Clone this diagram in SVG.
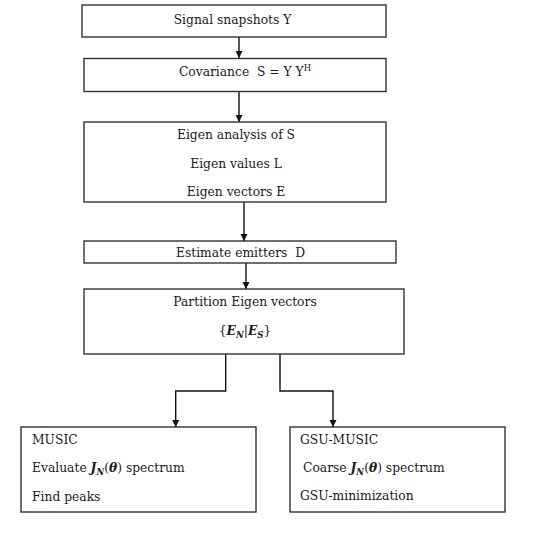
<svg xmlns="http://www.w3.org/2000/svg" width="544" height="533" viewBox="0 0 544 533">
<defs>
<marker id="ah" markerUnits="userSpaceOnUse" markerWidth="8" markerHeight="8" refX="7" refY="3.5" orient="auto">
<path d="M0,0 L7,3.5 L0,7 z" fill="#111"/>
</marker>
<style>
.box{fill:#fff;stroke:#333;stroke-width:1.4}
.t{font-family:"DejaVu Serif","Liberation Serif",serif;font-size:12.3px;fill:#1a1a1a;white-space:pre}
.c{text-anchor:middle}
.m{font-weight:bold;font-style:italic}
.con{fill:none;stroke:#111;stroke-width:1.4;marker-end:url(#ah)}
</style>
</defs>
<rect width="544" height="533" fill="#fff"/>
<g id="connectors">
<path class="con" d="M239 37 V58"/>
<path class="con" d="M239 92 V122"/>
<path class="con" d="M244 202 V241"/>
<path class="con" d="M246 263 V289"/>
<path class="con" d="M225.7 354 V391 H175.7 V427"/>
<path class="con" d="M280 354 V391 H333 V427"/>
</g>
<g id="n1">
<rect class="box" x="82" y="5" width="304" height="32"/>
<text class="t c" x="232.5" y="24">Signal snapshots Y</text>
</g>
<g id="n2">
<rect class="box" x="84" y="58.5" width="302" height="33"/>
<text class="t c" x="245" y="76" xml:space="preserve">Covariance  S = Y Y<tspan font-size="8.5" dy="-5">H</tspan></text>
</g>
<g id="n3">
<rect class="box" x="84" y="122" width="302" height="80"/>
<text class="t c" x="236" y="139">Eigen analysis of S</text>
<text class="t c" x="236" y="167.5">Eigen values L</text>
<text class="t c" x="236" y="195.5">Eigen vectors E</text>
</g>
<g id="n4">
<rect class="box" x="84" y="241" width="312" height="22"/>
<text class="t c" x="240.5" y="257" xml:space="preserve">Estimate emitters  D</text>
</g>
<g id="n5">
<rect class="box" x="84" y="289" width="320" height="65"/>
<text class="t c" x="245" y="306">Partition Eigen vectors</text>
<text class="t c" x="245" y="335">{<tspan class="m">E</tspan><tspan class="m" font-size="8.5" dy="3">N</tspan><tspan dy="-3">|</tspan><tspan class="m">E</tspan><tspan class="m" font-size="8.5" dy="3">S</tspan><tspan dy="-3">}</tspan></text>
</g>
<g id="n6">
<rect class="box" x="21" y="427" width="235" height="85"/>
<text class="t" x="32" y="444">MUSIC</text>
<text class="t" x="32" y="472">Evaluate <tspan class="m">J</tspan><tspan class="m" font-size="8.5" dy="3">N</tspan><tspan dy="-3">(</tspan><tspan class="m">θ</tspan>) spectrum</text>
<text class="t" x="32" y="501">Find peaks</text>
</g>
<g id="n7">
<rect class="box" x="290" y="427" width="215" height="85"/>
<text class="t" x="300" y="444">GSU-MUSIC</text>
<text class="t" x="303" y="472">Coarse <tspan class="m">J</tspan><tspan class="m" font-size="8.5" dy="3">N</tspan><tspan dy="-3">(</tspan><tspan class="m">θ</tspan>) spectrum</text>
<text class="t" x="300" y="500">GSU-minimization</text>
</g>
</svg>
